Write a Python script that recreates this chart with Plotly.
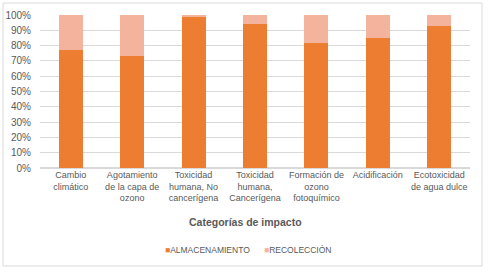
import plotly.graph_objects as go

categorias = ["Cambio<br>climático", "Agotamiento<br>de la capa de<br>ozono",
              "Toxicidad<br>humana, No<br>cancerígena", "Toxicidad<br>humana,<br>Cancerígena",
              "Formación de<br>ozono<br>fotoquímico", "Acidificación", "Ecotoxicidad<br>de agua dulce"]
almacenamiento = [77, 73, 99, 94, 82, 85, 93]
recoleccion = [23, 27, 1, 6, 18, 15, 7]
series_names = ["ALMACENAMIENTO", "RECOLECCIÓN"]
series_colors = ["#ED7D31", "#F3B39C"]

FONT = "Liberation Sans Narrow, Liberation Sans, Arial"
GRAY = "#595959"

L, R, T, B = 40, 19, 15, 104
PW, PH = 489 - L - R, 272 - T - B

def px(xp):
    return (xp - L) / PW

def py(yp):
    return (272 - B - yp) / PH

fig = go.Figure()
for name, vals, col in zip(series_names, [almacenamiento, recoleccion], series_colors):
    fig.add_trace(go.Bar(x=categorias, y=vals, name=name, showlegend=False,
                         marker=dict(color=col, line=dict(width=0))))

legend_ann = []
for name, col, xpos in zip(series_names, series_colors, [163, 262]):
    legend_ann.append(dict(
        text=f'<span style="color:{col}">■</span>{name}', xref="paper", yref="paper",
        x=px(xpos), y=py(250.5), xanchor="left", yanchor="middle", showarrow=False,
        font=dict(size=8.5, color=GRAY, family=FONT)))

fig.update_layout(
    width=489, height=272,
    barmode="stack", bargap=0.61,
    plot_bgcolor="white", paper_bgcolor="white",
    margin=dict(l=L, r=R, t=T, b=B, autoexpand=False),
    font=dict(family=FONT, size=9, color=GRAY),
    showlegend=False,
    xaxis=dict(showgrid=False, showline=False, ticks="", tickfont=dict(size=9, color=GRAY),
               tickangle=0, automargin=False),
    yaxis=dict(range=[0, 100], dtick=10, ticksuffix="%", showgrid=True, gridcolor="#D9D9D9",
               gridwidth=1, zeroline=True, zerolinecolor="#D9D9D9", showline=False,
               ticks="", ticklabelstandoff=8, tickfont=dict(size=10, color=GRAY),
               automargin=False),
    annotations=[dict(text="<b>Categorías de impacto</b>", xref="paper", yref="paper",
                      x=px(245.5), y=py(222), xanchor="center", yanchor="middle", showarrow=False,
                      font=dict(size=10.5, color=GRAY, family=FONT))] + legend_ann,
    shapes=[dict(type="rect", xref="paper", yref="paper",
                 x0=px(3), x1=px(482), y0=py(266), y1=py(3),
                 line=dict(color="#D9D9D9", width=1), layer="below")],
)

fig.write_html("out.html", config={"displayModeBar": False},
               post_script="document.body.style.margin='0';")
